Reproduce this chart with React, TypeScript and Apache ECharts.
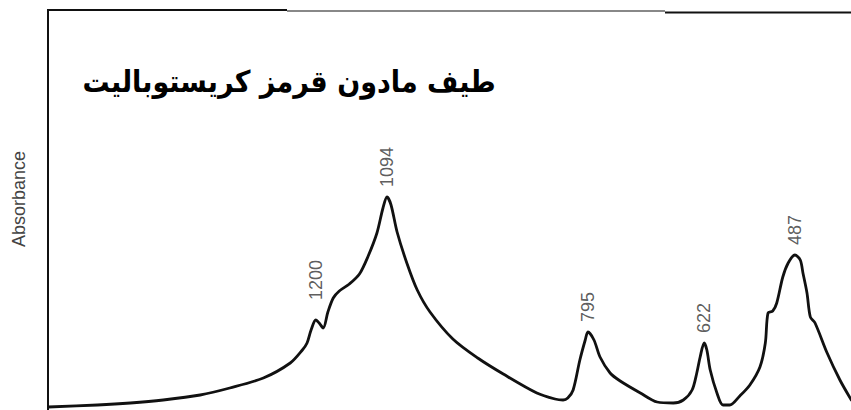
import React, { useEffect, useRef } from "react";
import * as echarts from "echarts";

// Wavenumber (cm^-1) and absorbance (arbitrary units, 0-100)
const wavenumbers = [
  1598, 1525, 1476, 1427, 1372, 1328, 1278, 1238, 1220, 1213, 1207, 1200, 1195, 1189,
  1182, 1174, 1165, 1150, 1135, 1122, 1109, 1100, 1094, 1088, 1079, 1064, 1049, 1030,
  996, 959, 921, 871, 844, 832, 825, 817, 807, 799, 795, 786, 777, 762, 747, 717, 692,
  668, 653, 640, 633, 628, 622, 618, 613, 603, 594, 584, 569, 554, 539, 531, 527, 520,
  514, 505, 497, 487, 479, 475, 469, 464, 457, 439, 420, 403,
];
const absorbance = [
  0.75, 1.25, 1.75, 2.5, 3.75, 5.5, 8, 11.75, 15, 16.75, 20, 22.5, 21.75, 20.5,
  24.5, 28, 29.75, 31.5, 34, 38.5, 44.25, 50.5, 53.25, 51.25, 44.5, 36.5, 30, 24.5,
  17.75, 13, 9, 4.25, 2.75, 2.5, 3, 5, 12.5, 17.5, 19.5, 17.5, 13.25, 9.25, 7.25, 4.25, 2,
  1.75, 2.5, 5, 9.25, 13.25, 16.75, 15, 10, 4.25, 1.25, 1.25, 3.5, 6.25, 10.75, 16.75, 24.25, 24.75,
  26.75, 33.25, 36.75, 38.75, 37.5, 34.25, 29.25, 23.25, 21.75, 14.25, 7.5, 2.5,
];

const peakWavenumbers = [1200, 1094, 795, 622, 487];
const peakAbsorbance = [22.5, 53.25, 19.5, 16.75, 38.75];

const titleText = "طیف مادون قرمز کریستوبالیت";
const yAxisTitle = "Absorbance";

export default function App() {
  const ref = useRef<HTMLDivElement>(null);

  useEffect(() => {
    document.body.style.margin = "0";
    const chart = echarts.init(ref.current!, null, { renderer: "svg" });
    const lineData = wavenumbers.map((w, i) => [w, absorbance[i]]);
    const peakData = peakWavenumbers.map((w, i) => ({
      value: [w, peakAbsorbance[i]],
      label: { distance: w === 1200 ? 20 : 10 },
    }));
    chart.setOption({
      animation: false,
      backgroundColor: "#ffffff",
      grid: { left: 47, right: 0, top: 10, bottom: 0 },
      xAxis: {
        type: "value",
        min: 403.5,
        max: 1600,
        inverse: true,
        show: false,
      },
      yAxis: {
        type: "value",
        min: 0,
        max: 100,
        show: false,
      },
      series: [
        {
          type: "line",
          data: lineData,
          showSymbol: false,
          smooth: 0.3,
          lineStyle: { color: "#111111", width: 2.8, join: "round", cap: "round" },
          clip: false,
          z: 3,
        },
        {
          type: "scatter",
          data: peakData,
          symbolSize: 0,
          label: {
            show: true,
            position: "top",
            rotate: 90,
            align: "left",
            verticalAlign: "middle",
            formatter: (p: any) => String(p.value[0]),
            fontFamily: "Liberation Sans, Arial, sans-serif",
            fontSize: 18,
            color: "#333333",
          },
          z: 4,
        },
      ],
      graphic: [
        { type: "line", shape: { x1: 48, y1: 10, x2: 48, y2: 410 }, style: { stroke: "#111", lineWidth: 2 } },
        { type: "line", shape: { x1: 47, y1: 10, x2: 287, y2: 10 }, style: { stroke: "#111", lineWidth: 2 } },
        { type: "line", shape: { x1: 287, y1: 11, x2: 665, y2: 11 }, style: { stroke: "#888", lineWidth: 2 } },
        { type: "line", shape: { x1: 665, y1: 12.5, x2: 851, y2: 12.5 }, style: { stroke: "#111", lineWidth: 2 } },
        {
          type: "text",
          x: 289,
          y: 81,
          style: {
            text: titleText,
            align: "center",
            verticalAlign: "middle",
            font: "bold 30px 'DejaVu Sans Condensed', 'DejaVu Sans', sans-serif",
            fill: "#000",
          },
        },
        {
          type: "text",
          x: 19,
          y: 199,
          rotation: Math.PI / 2,
          style: {
            text: yAxisTitle,
            align: "center",
            verticalAlign: "middle",
            font: "18px 'Liberation Sans', Arial, sans-serif",
            fill: "#444",
          },
        },
      ],
    });
    return () => chart.dispose();
  }, []);

  return (
    <div
      ref={ref}
      style={{ position: "fixed", left: 0, top: 0, width: 851, height: 410, background: "#fff" }}
    />
  );
}
